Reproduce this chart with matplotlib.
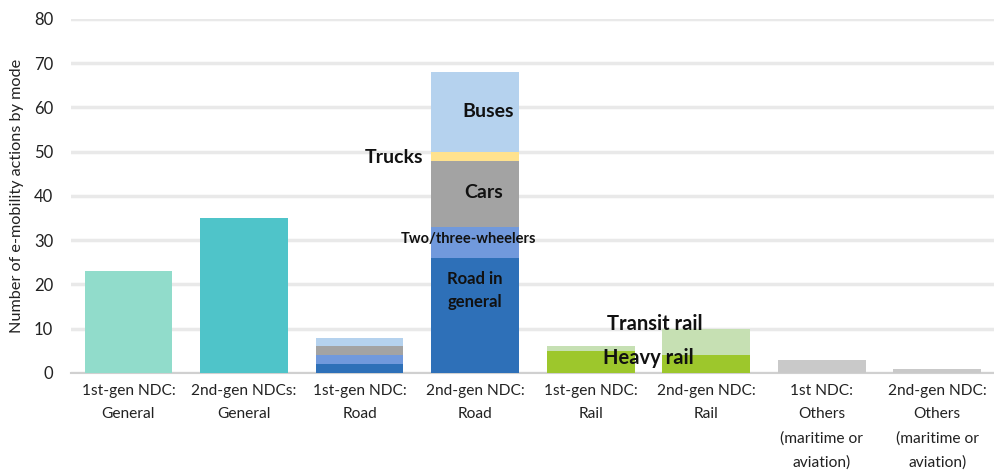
import matplotlib
matplotlib.use("Agg")
import matplotlib.pyplot as plt
import numpy as np

plt.rcParams['font.family'] = ['Lato', 'DejaVu Sans']

categories = ["1st-gen NDC:\nGeneral", "2nd-gen NDCs:\nGeneral", "1st-gen NDC:\nRoad",
              "2nd-gen NDC:\nRoad", "1st-gen NDC:\nRail", "2nd-gen NDC:\nRail",
              "1st NDC:\nOthers\n(maritime or\naviation)", "2nd-gen NDC:\nOthers\n(maritime or\naviation)"]

general = [23, 35, 0, 0, 0, 0, 0, 0]
road_general = [0, 0, 2, 26, 0, 0, 0, 0]
two_three = [0, 0, 2, 7, 0, 0, 0, 0]
cars = [0, 0, 2, 15, 0, 0, 0, 0]
trucks = [0, 0, 0, 2, 0, 0, 0, 0]
buses = [0, 0, 2, 18, 0, 0, 0, 0]
heavy_rail = [0, 0, 0, 0, 5, 4, 0, 0]
transit_rail = [0, 0, 0, 0, 1, 6, 0, 0]
others = [0, 0, 0, 0, 0, 0, 3, 1]

fig = plt.figure(figsize=(9.95, 4.70), dpi=100)
ax = fig.add_axes([0.071, 0.2064, 0.929, 0.7532])

x = np.arange(len(categories))
w = 0.76
general_colors = ["#91dccb", "#4fc4c9"]
ax.bar(x[:2], general[:2], w, color=general_colors, zorder=3)

stack = [(road_general, "#2e70b8"), (two_three, "#7199dc"), (cars, "#a3a3a3"),
         (trucks, "#ffe28e"), (buses, "#b5d2ee"),
         (heavy_rail, "#9dc72c"), (transit_rail, "#c6e0b3"), (others, "#c9c9c9")]
bottom = np.zeros(len(categories))
for vals, col in stack:
    v = np.array(vals, dtype=float)
    ax.bar(x, v, w, bottom=bottom, color=col, zorder=3)
    bottom += v

ax.set_ylim(0, 80)
ax.set_xlim(-0.5, len(categories) - 0.5)
ax.set_yticks(np.arange(0, 81, 10))
ax.yaxis.grid(True, color="#e9e9e9", linewidth=2.5, zorder=0)
ax.set_axisbelow(True)
for s in ["top", "right", "left"]:
    ax.spines[s].set_visible(False)
ax.spines["bottom"].set_color("#d0d0d0")
ax.spines["bottom"].set_linewidth(1.5)
ax.tick_params(axis="both", length=0, colors="#222222")
ax.tick_params(axis="y", pad=12.5, labelsize=12)
ax.tick_params(axis="x", pad=8, labelsize=11.2)
ax.set_xticks(x)
ax.set_xticklabels(categories, linespacing=1.85)
ax.set_ylabel("Number of e-mobility actions by mode", fontsize=11.7, color="#222222")
ax.yaxis.set_label_coords(-0.051, 0.5)

tk = dict(fontweight="bold", color="#111111", zorder=5)
ax.text(3.11, 59, "Buses", ha="center", va="center", fontsize=14, **tk)
ax.text(2.55, 48.8, "Trucks", ha="right", va="center", fontsize=14, **tk)
ax.text(3.07, 40.7, "Cars", ha="center", va="center", fontsize=14, **tk)
ax.text(2.94, 30.2, "Two/three-wheelers", ha="center", va="center", fontsize=10.5, **tk)
ax.text(3.0, 18.6, "Road in\ngeneral", ha="center", va="center", fontsize=12, linespacing=1.5, **tk)
ax.text(4.56, 11.0, "Transit rail", ha="center", va="center", fontsize=14.5, **tk)
ax.text(4.50, 3.4, "Heavy rail", ha="center", va="center", fontsize=14.5, **tk)

fig.savefig("out.png", dpi=100)
